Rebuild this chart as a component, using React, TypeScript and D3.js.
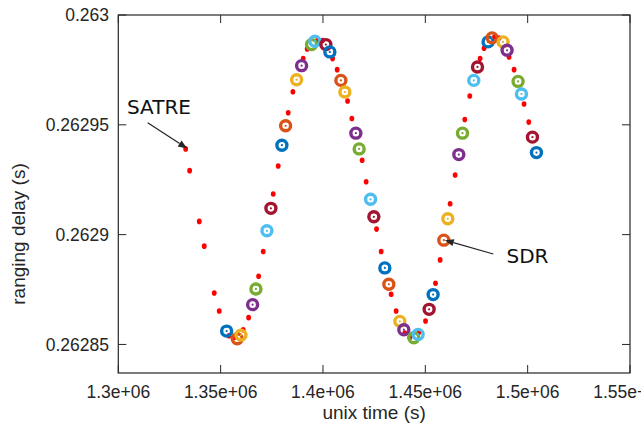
import React from "react";
import * as d3 from "d3";

const satreTime = [
  1332910, 1334863, 1339551, 1341992, 1346875, 1349316, 1354053, 1356494, 1361035, 1363672,
  1368555, 1370801, 1375683, 1378125, 1383008, 1385303, 1390332, 1392285, 1397510, 1399805,
  1404688, 1406934, 1412012, 1414111, 1419140, 1421094, 1426172, 1428418, 1433301, 1435742,
  1439990, 1442431, 1446972, 1450098, 1454980, 1457226, 1462109, 1464551, 1469287, 1471728,
  1476757, 1478711, 1483789, 1486035, 1490918, 1493359, 1498242, 1500537,
];
const satreDelay = [
  0.26293904, 0.26292914, 0.26290603, 0.26289475, 0.26287343, 0.26286521, 0.26285398, 0.2628532,
  0.26285672, 0.2628622, 0.26288106, 0.26289233, 0.2629185, 0.26293128, 0.26295548, 0.26296507,
  0.26298014, 0.26298457, 0.26298881, 0.26298836, 0.26298014, 0.26297512, 0.26296082, 0.26295288,
  0.26293388, 0.26292411, 0.26290252, 0.26289233, 0.26287284, 0.26286521, 0.26285517, 0.2628532,
  0.26285562, 0.26286065, 0.26287786, 0.2628885, 0.26291407, 0.26292717, 0.26295242, 0.26296311,
  0.26298014, 0.26298484, 0.26298995, 0.2629895, 0.26298091, 0.26297512, 0.26295945, 0.26295123,
];

const sdrTime = [
  1352930, 1358105, 1359912, 1365625, 1367236, 1372607, 1374560, 1379931, 1381738, 1387110,
  1389551, 1394434, 1396045, 1401416, 1403369, 1408740, 1410693, 1416064, 1417676, 1423242,
  1424853, 1430224, 1432177, 1437549, 1439502, 1444385, 1446484, 1451855, 1453808, 1459033,
  1460986, 1466357, 1468164, 1473682, 1475488, 1480664, 1482617, 1487988, 1489941, 1495312,
  1496973, 1502344, 1504297,
];
const sdrDelay = [
  0.26285608, 0.26285261, 0.26285425, 0.26286813, 0.26287526, 0.26290174, 0.26291197, 0.26294073,
  0.26294955, 0.26297055, 0.26297694, 0.26298653, 0.26298804, 0.26298653, 0.2629832, 0.26297023,
  0.26296493, 0.26294621, 0.26293904, 0.26291608, 0.26290813, 0.26288485, 0.2628774, 0.26286051,
  0.26285672, 0.26285307, 0.26285457, 0.26286599, 0.2628727, 0.26289749, 0.26290722, 0.26293644,
  0.26294621, 0.26297023, 0.26297635, 0.26298776, 0.26298959, 0.26298776, 0.26298393, 0.26296977,
  0.26296402, 0.26294439, 0.26293735,
];

const sdrColors = ["#0072BD", "#D95319", "#EDB120", "#7E2F8E", "#77AC30", "#4DBEEE", "#A2142F"];

const xTicks = [1.3e6, 1.35e6, 1.4e6, 1.45e6, 1.5e6, 1.55e6];
const xTickLabels = ["1.3e+06", "1.35e+06", "1.4e+06", "1.45e+06", "1.5e+06", "1.55e+06"];
const yTicks = [0.26285, 0.2629, 0.26295, 0.263];
const yTickLabels = ["0.26285", "0.2629", "0.26295", "0.263"];

const xLabel = "unix time (s)";
const yLabel = "ranging delay (s)";

// annotations: [text, index into series]
const satreNote = { text: "SATRE", idx: 0 };
const sdrNote = { text: "SDR", idx: 29 };

const W = 641;
const H = 428;
const L = 118.3;
const R = 630;
const T = 15;
const B = 373;

const axisColor = "#262626";
const tickFont = "'Liberation Sans', Arial, sans-serif";

function Arrow({ x1, y1, x2, y2 }: { x1: number; y1: number; x2: number; y2: number }) {
  const ang = Math.atan2(y2 - y1, x2 - x1);
  const hl = 9;
  const hw = 3.6;
  const bx = x2 - hl * Math.cos(ang);
  const by = y2 - hl * Math.sin(ang);
  const px = -Math.sin(ang) * hw;
  const py = Math.cos(ang) * hw;
  return (
    <g>
      <line x1={x1} y1={y1} x2={bx} y2={by} stroke={axisColor} strokeWidth={1.3} />
      <polygon points={`${x2},${y2} ${bx + px},${by + py} ${bx - px},${by - py}`} fill={axisColor} />
    </g>
  );
}

export default function App() {
  const x = d3.scaleLinear().domain([1.3e6, 1.55e6]).range([L, R]);
  const y = d3.scaleLinear().domain([0.262837, 0.263]).range([B, T]);
  const tl = 8;

  const satreTip = { x: x(satreTime[satreNote.idx]), y: y(satreDelay[satreNote.idx]) };
  const sdrTip = { x: x(sdrTime[sdrNote.idx]), y: y(sdrDelay[sdrNote.idx]) };

  return (
    <svg width={W} height={H} style={{ position: "absolute", left: 0, top: 0, background: "#fff" }}>
      <rect x={0} y={0} width={W} height={H} fill="#fff" />
      {/* ticks */}
      {xTicks.map((t, i) => (
        <g key={"xt" + i}>
          <line x1={x(t)} x2={x(t)} y1={B} y2={B - tl} stroke={axisColor} strokeWidth={1} />
          <line x1={x(t)} x2={x(t)} y1={T} y2={T + tl} stroke={axisColor} strokeWidth={1} />
          <text x={x(t)} y={398} textAnchor="middle" fontFamily={tickFont} fontSize={17.5} fill={axisColor}>
            {xTickLabels[i]}
          </text>
        </g>
      ))}
      {yTicks.map((t, i) => (
        <g key={"yt" + i}>
          <line x1={L} x2={L + tl} y1={y(t)} y2={y(t)} stroke={axisColor} strokeWidth={1} />
          <line x1={R} x2={R - tl} y1={y(t)} y2={y(t)} stroke={axisColor} strokeWidth={1} />
          <text x={109} y={y(t) + 6.3} textAnchor="end" fontFamily={tickFont} fontSize={17.5} fill={axisColor}>
            {yTickLabels[i]}
          </text>
        </g>
      ))}
      {/* SATRE points */}
      {satreTime.map((t, i) => (
        <ellipse key={"s" + i} cx={x(t)} cy={y(satreDelay[i])} rx={2.4} ry={2.8} fill="#ff0000" />
      ))}
      {/* SDR rings */}
      {sdrTime.map((t, i) => {
        const c = sdrColors[i % sdrColors.length];
        return (
          <g key={"r" + i}>
            <circle cx={x(t)} cy={y(sdrDelay[i])} r={5} fill="none" stroke={c} strokeWidth={3.4} />
            <circle cx={x(t)} cy={y(sdrDelay[i])} r={1.1} fill={c} />
          </g>
        );
      })}
      {/* frame */}
      <rect x={L} y={T} width={R - L} height={B - T} fill="none" stroke={axisColor} strokeWidth={1.2} />
      {/* labels */}
      <text x={(L + R) / 2} y={419} textAnchor="middle" fontFamily={tickFont} fontSize={19} fill={axisColor}>
        {xLabel}
      </text>
      <text
        transform={`translate(${25},${234}) rotate(-90)`}
        textAnchor="middle"
        fontFamily={tickFont}
        fontSize={19}
        fill={axisColor}
      >
        {yLabel}
      </text>
      {/* annotations */}
      <text x={127} y={114} fontFamily="'DejaVu Sans', sans-serif" fontSize={20} fill="#111">
        {satreNote.text}
      </text>
      <Arrow x1={147.7} y1={122.7} x2={satreTip.x + 1.5} y2={satreTip.y - 0.5} />
      <text x={506.5} y={263.3} fontFamily="'DejaVu Sans', sans-serif" fontSize={20} fill="#111">
        {sdrNote.text}
      </text>
      <Arrow x1={493.3} y1={254} x2={sdrTip.x + 1} y2={sdrTip.y} />
    </svg>
  );
}
